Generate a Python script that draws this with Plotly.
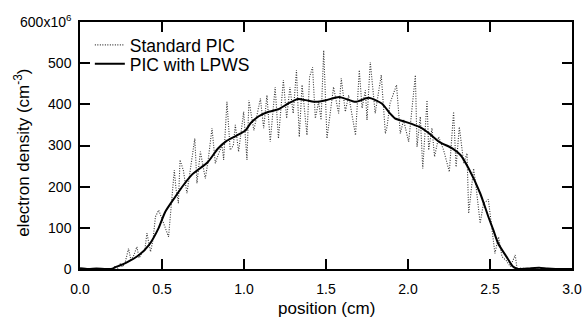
import plotly.graph_objects as go

# Standard PIC (noisy, dotted)
std_x = [0.00, 0.05, 0.10, 0.15, 0.20, 0.215, 0.23, 0.245, 0.26, 0.275, 0.296, 0.31, 0.325, 0.347, 0.36,
         0.378, 0.395, 0.408, 0.43, 0.445, 0.46, 0.48, 0.50, 0.52, 0.54, 0.56, 0.575, 0.585, 0.60, 0.61,
         0.63, 0.652, 0.67, 0.70, 0.713, 0.734, 0.764, 0.78, 0.805, 0.825, 0.845, 0.866, 0.876, 0.896,
         0.916, 0.935, 0.947, 0.967, 0.998, 1.018, 1.03, 1.06, 1.10, 1.12, 1.14, 1.16, 1.19, 1.21, 1.24,
         1.26, 1.28, 1.30, 1.32, 1.337, 1.354, 1.384, 1.40, 1.418, 1.435, 1.455, 1.47, 1.486, 1.506,
         1.546, 1.577, 1.593, 1.618, 1.638, 1.68, 1.703, 1.72, 1.74, 1.75, 1.77, 1.80, 1.837, 1.862,
         1.872, 1.89, 1.93, 1.953, 1.973, 2.004, 2.045, 2.055, 2.075, 2.09, 2.116, 2.126, 2.146, 2.162,
         2.187, 2.217, 2.252, 2.278, 2.293, 2.313, 2.34, 2.36, 2.37, 2.40, 2.415, 2.44, 2.46, 2.49,
         2.507, 2.53, 2.552, 2.573, 2.60, 2.624, 2.654, 2.665, 2.695, 2.72, 2.80, 2.90, 3.00]
std_y = [0, 0, 0, 0, 0, 8, 2, 12, 5, 15, 50, 22, 30, 54, 27,
         39, 45, 87, 42, 70, 127, 143, 119, 100, 78, 167, 240, 196, 160, 265,
         240, 184, 230, 317, 208, 285, 220, 260, 342, 257, 280, 301, 265, 406,
         289, 300, 350, 285, 382, 265, 410, 337, 414, 342, 422, 309, 442, 317, 459,
         366, 442, 378, 483, 321, 447, 325, 467, 490, 366, 406, 362, 531, 317,
         442, 378, 463, 382, 422, 325, 483, 391, 434, 362, 503, 378, 471, 329,
         345, 402, 447, 329, 362, 309, 471, 297, 370, 244, 410, 289, 342, 273,
         321, 289, 236, 382, 248, 345, 257, 281, 135, 244, 200, 111, 159, 169,
         111, 38, 78, 30, 20, 6, 34, 0, 3, 0, 0, 0, 0]

# PIC with LPWS (smooth, solid)
lpws_x = [0.00, 0.05, 0.10, 0.15, 0.19, 0.22, 0.28, 0.36, 0.42, 0.48, 0.52, 0.58, 0.62, 0.68, 0.78,
          0.84, 0.89, 0.95, 1.01, 1.04, 1.09, 1.15, 1.21, 1.27, 1.33, 1.39, 1.44, 1.50, 1.58, 1.68,
          1.76, 1.84, 1.89, 1.92, 1.98, 2.07, 2.13, 2.19, 2.27, 2.32, 2.37, 2.44, 2.49, 2.52, 2.55,
          2.60, 2.64, 2.67, 2.70, 2.75, 2.80, 2.85, 2.90, 3.00]
lpws_y = [2, 0, 1, 0, 0, 5, 15, 34, 58, 100, 139, 175, 198, 228, 260,
          292, 310, 323, 337, 354, 371, 382, 388, 402, 413, 409, 406, 410, 418, 406,
          416, 402, 378, 366, 358, 345, 329, 309, 293, 277, 244, 184, 127, 95, 62,
          30, 6, 0, 0, 2, 3, 1, 0, 0]

x_ticks = [0.0, 0.5, 1.0, 1.5, 2.0, 2.5, 3.0]
x_ticklabels = ["0.0", "0.5", "1.0", "1.5", "2.0", "2.5", "3.0"]
y_ticks = [0, 100, 200, 300, 400, 500, 600]
y_ticklabels = ["0", "100", "200", "300", "400", "500", "600x10<sup>6</sup>"]

fig = go.Figure()
fig.add_trace(go.Scatter(x=std_x, y=std_y, mode="lines", name="Standard PIC", legend="legend",
                         line=dict(color="#333333", width=1.1, dash="1px,1.5px")))
fig.add_trace(go.Scatter(x=lpws_x, y=lpws_y, mode="lines", name="PIC with LPWS", legend="legend2",
                         line=dict(color="black", width=2, shape="spline", smoothing=0.6)))

axis_common = dict(showgrid=False, zeroline=False, showline=True, linecolor="black", linewidth=1.5,
                   mirror="ticks", ticks="inside", ticklen=10, tickwidth=1.5, tickcolor="black",
                   tickfont=dict(size=14, color="black"), automargin=False)

legend_common = dict(xanchor="left", yanchor="middle", bgcolor="rgba(0,0,0,0)",
                     font=dict(size=17.5), itemwidth=30, borderwidth=0)

fig.update_layout(
    template="none",
    width=583, height=325,
    margin=dict(l=80, r=11, t=22, b=56, pad=0),
    paper_bgcolor="white", plot_bgcolor="white",
    font=dict(family="Liberation Sans, Arial, sans-serif", color="black"),
    showlegend=True,
    legend=dict(x=0.02, y=0.907, **legend_common),
    legend2=dict(x=0.02, y=0.830, **legend_common),
    xaxis=dict(range=[0, 3], tickvals=x_ticks, ticktext=x_ticklabels, ticklabelstandoff=6,
               **axis_common),
    yaxis=dict(range=[0, 600], tickvals=y_ticks, ticktext=y_ticklabels, ticklabelstandoff=4,
               **axis_common),
    annotations=[
        dict(text="position (cm)", xref="paper", yref="paper", x=0.5, y=-0.16,
             xanchor="center", yanchor="middle", showarrow=False, font=dict(size=17)),
        dict(text="electron density (cm<sup>-3</sup>)", xref="paper", yref="paper", x=-0.118, y=0.47,
             xanchor="center", yanchor="middle", textangle=-90, showarrow=False, font=dict(size=17)),
    ],
)

fig.write_html("out.html")
